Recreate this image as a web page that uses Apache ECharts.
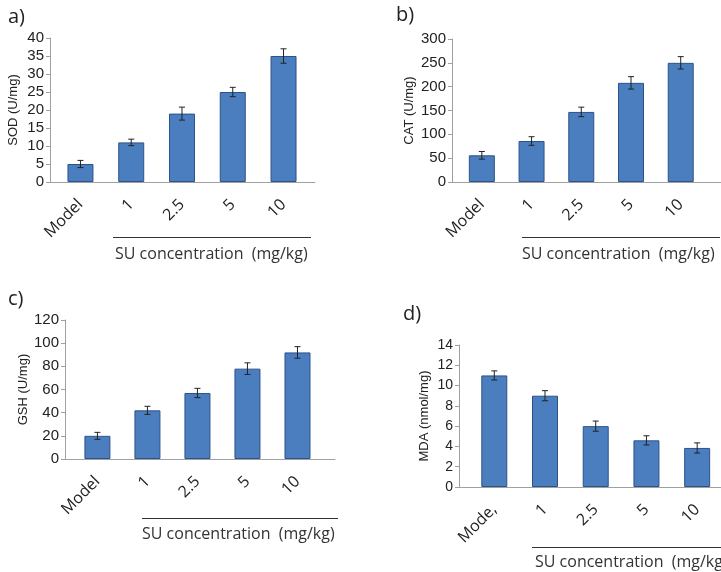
<!DOCTYPE html>
<html>
<head>
<meta charset="utf-8">
<script src="https://cdn.jsdelivr.net/npm/echarts@6/dist/echarts.min.js"></script>
<style>html,body{margin:0;padding:0;background:#fff}#c{width:721px;height:572px}</style>
</head>
<body>
<div id="c"></div>
<script>
// ---- data ----
const categoriesABC = ["Model", "1", "2.5", "5", "10"];
const categoriesD = ["Mode,", "1", "2.5", "5", "10"];
const sodValues = [5, 11, 19, 25, 35];
const sodErrors = [1, 0.9, 1.8, 1.3, 2];
const catValues = [56, 86, 147, 208, 250];
const catErrors = [8, 9, 10, 13, 13];
const gshValues = [20, 42, 57, 78, 92];
const gshErrors = [3, 3.5, 4, 5, 5];
const mdaValues = [11, 9, 6, 4.6, 3.85];
const mdaErrors = [0.45, 0.5, 0.5, 0.45, 0.5];
const yTicksA = [0, 5, 10, 15, 20, 25, 30, 35, 40];
const yTicksB = [0, 50, 100, 150, 200, 250, 300];
const yTicksC = [0, 20, 40, 60, 80, 100, 120];
const yTicksD = [0, 2, 4, 6, 8, 10, 12, 14];
const yNames = ["SOD (U/mg)", "CAT (U/mg)", "GSH (U/mg)", "MDA (nmol/mg)"];
const panelLabels = ["a)", "b)", "c)", "d)"];
const xTitle = "SU concentration  (mg/kg)";

// ---- layout ----
const panels = [
  {cats: categoriesABC, vals: sodValues, errs: sodErrors, ticks: yTicksA, name: yNames[0],
   grid: {left: 50, top: 38, width: 265, height: 144}, xr: [-0.60, 4.62], nameGap: 30, fs: 15,
   label: [8, 19], line: [113, 311, 237], title: [115, 257]},
  {cats: categoriesABC, vals: catValues, errs: catErrors, ticks: yTicksB, name: yNames[1],
   grid: {left: 452, top: 39, width: 269, height: 143}, xr: [-0.60, 4.81], nameGap: 36, fs: 15,
   label: [396, 17], line: [522, 720, 237], title: [522, 257]},
  {cats: categoriesABC, vals: gshValues, errs: gshErrors, ticks: yTicksC, name: yNames[2],
   grid: {left: 65, top: 320, width: 270, height: 139}, xr: [-0.648, 4.75], nameGap: 32, fs: 15,
   label: [8, 301], line: [142, 338, 518], title: [142, 537]},
  {cats: categoriesD, vals: mdaValues, errs: mdaErrors, ticks: yTicksD, name: yNames[3],
   grid: {left: 459, top: 345, width: 262, height: 142}, xr: [-0.696, 4.47], nameGap: 28, fs: 14,
   label: [403, 316], line: [532, 721, 547], title: [535, 565]}
];

const grids = [], xAxes = [], yAxes = [], series = [], graphics = [];
panels.forEach((p, i) => {
  grids.push(Object.assign({containLabel: false}, p.grid));
  xAxes.push({
    type: 'value', gridIndex: i, min: p.xr[0], max: p.xr[1],
    axisLine: {show: true, onZero: false, lineStyle: {color: '#a0a0a0', width: 1}},
    axisTick: {show: false},
    splitLine: {show: false},
    axisLabel: {
      customValues: p.cats.map((c, k) => k),
      formatter: v => p.cats[Math.round(v)],
      rotate: 45, margin: 20, fontFamily: 'Open Sans', fontSize: 16, color: '#222'
    }
  });
  const tk = p.ticks;
  yAxes.push({
    type: 'value', gridIndex: i, min: tk[0], max: tk[tk.length - 1], interval: tk[1] - tk[0],
    name: p.name, nameLocation: 'middle', nameGap: p.nameGap,
    nameTextStyle: {fontFamily: 'Liberation Sans', fontSize: 13, color: '#222'},
    axisLine: {show: true, onZero: false, lineStyle: {color: '#a0a0a0', width: 1}},
    axisTick: {show: true, length: 4, lineStyle: {color: '#a0a0a0'}},
    splitLine: {show: false},
    axisLabel: {fontFamily: 'Liberation Sans', fontSize: p.fs, color: '#222', margin: 6}
  });
  series.push({
    type: 'bar', xAxisIndex: i, yAxisIndex: i, barWidth: 26,
    data: p.vals.map((v, k) => [k, v]),
    itemStyle: {color: '#4a7ebf', borderColor: '#2d5288', borderWidth: 1},
    silent: true
  });
  series.push({
    type: 'custom', xAxisIndex: i, yAxisIndex: i, silent: true,
    data: p.vals.map((v, k) => [k, v, p.errs[k]]),
    encode: {x: 0, y: 1},
    renderItem: (params, api) => {
      const x = api.value(0), y = api.value(1), e = api.value(2);
      const t = api.coord([x, y + e]), b = api.coord([x, y - e]);
      const st = {stroke: '#222', lineWidth: 1};
      return {type: 'group', children: [
        {type: 'line', shape: {x1: t[0], y1: t[1], x2: b[0], y2: b[1]}, style: st},
        {type: 'line', shape: {x1: t[0] - 3, y1: t[1], x2: t[0] + 3, y2: t[1]}, style: st},
        {type: 'line', shape: {x1: b[0] - 3, y1: b[1], x2: b[0] + 3, y2: b[1]}, style: st}
      ]};
    },
    z: 5
  });
  graphics.push({type: 'text', left: p.label[0], top: p.label[1] - 12,
    style: {text: panelLabels[i], font: '20px "Open Sans"', fill: '#222'}});
  graphics.push({type: 'line', shape: {x1: p.line[0], y1: p.line[2] + 0.5, x2: p.line[1], y2: p.line[2] + 0.5},
    style: {stroke: '#333', lineWidth: 1}});
  graphics.push({type: 'text', left: p.title[0], top: p.title[1] - 11,
    style: {text: xTitle, font: '16px "Open Sans"', fill: '#333'}});
});

const chart = echarts.init(document.getElementById('c'), null, {renderer: 'canvas'});
chart.setOption({
  animation: false,
  backgroundColor: '#fff',
  grid: grids, xAxis: xAxes, yAxis: yAxes, series: series, graphic: graphics
});
</script>
</body>
</html>
